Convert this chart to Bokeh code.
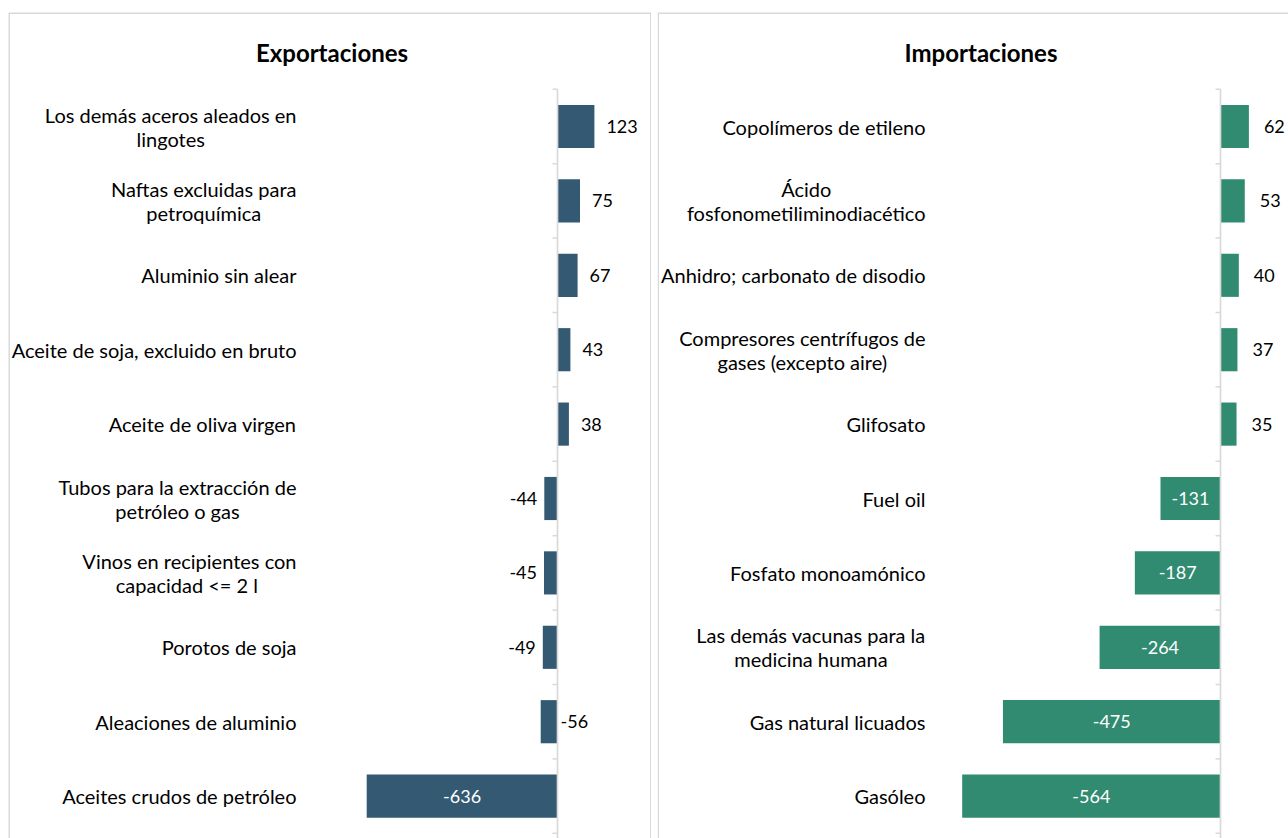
import glob
import os
import subprocess

from bokeh.plotting import figure
from bokeh.layouts import row
from bokeh.models import Range1d
from bokeh.core.properties import value
from bokeh.embed import file_html
from bokeh.resources import INLINE

# ---------------- data ----------------
exp_title = "Exportaciones"
exp_labels = [
    "Los demás aceros aleados en\nlingotes",
    "Naftas excluidas para\npetroquímica",
    "Aluminio sin alear",
    "Aceite de soja, excluido en bruto",
    "Aceite de oliva virgen",
    "Tubos para la extracción de\npetróleo o gas",
    "Vinos en recipientes con\ncapacidad <=  2 l",
    "Porotos de soja",
    "Aleaciones de aluminio",
    "Aceites crudos de petróleo",
]
exp_values = [123, 75, 67, 43, 38, -44, -45, -49, -56, -636]

imp_title = "Importaciones"
imp_labels = [
    "Copolímeros de etileno",
    "Ácido\nfosfonometiliminodiacético",
    "Anhidro; carbonato de disodio",
    "Compresores centrífugos de\ngases (excepto aire)",
    "Glifosato",
    "Fuel oil",
    "Fosfato monoamónico",
    "Las demás vacunas para la\nmedicina humana",
    "Gas natural licuados",
    "Gasóleo",
]
imp_values = [62, 53, 40, 37, 35, -131, -187, -264, -475, -564]

# label placement styles (per bar)
exp_label_pos = ["out", "out", "out", "out", "out", "out", "out", "out", "axis", "in"]
imp_label_pos = ["out", "out", "out", "out", "out", "in", "in", "in", "in", "in"]

# ---------------- style / layout ----------------
FONT = "Lato"
FONT_PX = 20
VALUE_PX = 18
TITLE_PX = 24
HEIGHT = 838
PANEL_W = 643
ROW_PX = 74.4          # pixel height of one category band
ROW0_PX = 126          # canvas y of the first band centre
TITLE_Y_PX = 52
BORDER_TOP_PX = 12
GRID = "#d9d9d9"
TEXT = "#000000"


def _find_font(fname):
    for root in ["/usr/share/fonts", "/usr/local/share/fonts", os.path.expanduser("~/.fonts")]:
        hits = glob.glob(os.path.join(root, "**", fname), recursive=True)
        if hits:
            return hits[0]
    try:
        out = subprocess.run(["fc-match", "-f", "%{file}", FONT], capture_output=True, text=True).stdout
        if out and os.path.exists(out):
            return out
    except Exception:
        pass
    return None


try:
    from PIL import ImageFont
    _path = _find_font("Lato-Regular.ttf")
    _font = ImageFont.truetype(_path, FONT_PX) if _path else None
except Exception:
    _font = None


def text_w(s):
    if _font is not None:
        return _font.getlength(s)
    return len(s) * FONT_PX * 0.5


def panel(title, cats, vals, label_pos, color, width, border_left_px, zero_px, xscale,
          label_right_px, gap_pos_px, gap_neg_px):
    n = len(vals)
    x_start = -zero_px / xscale
    x_end = (width - zero_px) / xscale
    y_top = (n - 1) + ROW0_PX / ROW_PX
    y_bot = y_top - HEIGHT / ROW_PX

    def dx(px):  # canvas x -> data x
        return x_start + px / xscale

    def dy(py):  # canvas y -> data y
        return y_top - py / ROW_PX

    p = figure(width=width, height=HEIGHT,
               x_range=Range1d(x_start, x_end), y_range=Range1d(y_bot, y_top),
               x_axis_type=None, y_axis_type=None,
               output_backend="svg", toolbar_location=None,
               min_border=0, min_border_left=0, min_border_right=0,
               min_border_top=0, min_border_bottom=0)
    p.grid.visible = False
    p.outline_line_color = None
    p.background_fill_color = "white"
    p.border_fill_color = "white"

    ys = [n - 1 - i for i in range(n)]
    bl = border_left_px
    br = border_left_px + PANEL_W

    # panel border (left, right, top)
    top = dy(BORDER_TOP_PX + 0.75)
    p.segment(x0=[dx(bl + 0.75), dx(br - 0.75), dx(bl)],
              y0=[top, top, top],
              x1=[dx(bl + 0.75), dx(br - 0.75), dx(br)],
              y1=[y_bot - 1, y_bot - 1, top],
              line_color=GRID, line_width=1.5)

    # bars
    p.hbar(y=ys, left=0, right=vals, height=0.58, fill_color=color, line_color=None)

    # axis line at zero + ticks at band boundaries
    bounds = [y + 0.5 for y in ys] + [ys[-1] - 0.5]
    p.segment(x0=[0], y0=[bounds[0]], x1=[0], y1=[y_bot - 1], line_color=GRID, line_width=1.7)
    p.segment(x0=[0] * len(bounds), y0=bounds, x1=[-5 / xscale] * len(bounds), y1=bounds,
              line_color=GRID, line_width=1.5)

    # category labels (multi-line blocks centred, block right-aligned)
    anchor = -label_right_px / xscale
    for lab, y in zip(cats, ys):
        lines = lab.split("\n")
        if len(lines) == 1:
            p.text(x=[anchor], y=[y], text=[lab], text_align="right", text_baseline="middle",
                   text_font=value(FONT), text_font_size=f"{FONT_PX}px", text_color=TEXT)
        else:
            w = max(text_w(s) for s in lines)
            cx = anchor - (w / 2) / xscale
            p.text(x=[cx], y=[y], text=[lab], text_align="center", text_baseline="middle",
                   text_line_height=1.0,
                   text_font=value(FONT), text_font_size=f"{FONT_PX}px", text_color=TEXT)

    # value labels
    for v, y, pos in zip(vals, ys, label_pos):
        s = f"{v}"
        if pos == "in":
            x, align, col = v / 2, "center", "white"
        elif pos == "axis":
            x, align, col = 3 / xscale, "left", TEXT
        elif v >= 0:
            x, align, col = v + gap_pos_px / xscale, "left", TEXT
        else:
            x, align, col = v - gap_neg_px / xscale, "right", TEXT
        p.text(x=[x], y=[y], text=[s], text_align=align, text_baseline="middle",
               text_font=value(FONT), text_font_size=f"{VALUE_PX}px", text_color=col)

    # title
    p.text(x=[dx(bl + PANEL_W / 2 + 2)], y=[dy(TITLE_Y_PX)], text=[title], text_align="center",
           text_baseline="middle", text_font=value(FONT), text_font_size=f"{TITLE_PX}px",
           text_font_style="bold", text_color=TEXT)
    return p


left = panel(exp_title, exp_labels, exp_values, exp_label_pos, "#345A73",
             width=651, border_left_px=8, zero_px=557, xscale=0.30, label_right_px=261,
             gap_pos_px=12, gap_neg_px=7)
right = panel(imp_title, imp_labels, imp_values, imp_label_pos, "#318B70",
              width=631, border_left_px=0, zero_px=563, xscale=0.458, label_right_px=295,
              gap_pos_px=15, gap_neg_px=7)

layout = row(left, right, spacing=6)
open("out.html", "w").write(file_html(layout, INLINE))
